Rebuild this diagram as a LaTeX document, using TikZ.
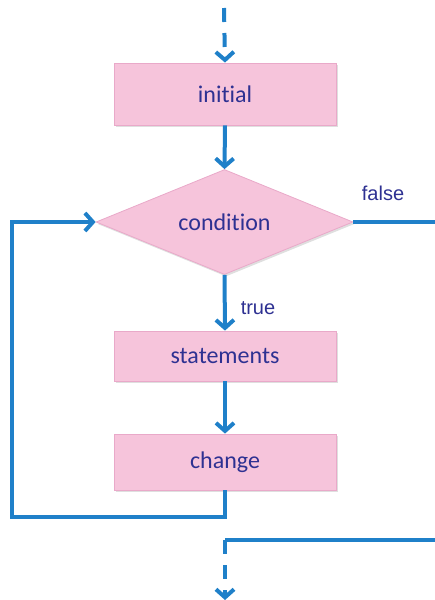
\documentclass[tikz,border=0pt]{standalone}
\usepackage{fontspec}
\setmainfont{Carlito}[Ligatures=NoCommon]
\newfontfamily\labfont{Liberation Sans}
\usetikzlibrary{arrows.meta,shapes.geometric,shadows}
\definecolor{flowblue}{HTML}{1F80C9}
\definecolor{boxpink}{HTML}{F6C4DB}
\definecolor{boxedge}{HTML}{E9A9C9}
\definecolor{txtblue}{HTML}{2E3192}
\tikzset{
  boxshape/.style={rectangle, fill=boxpink, draw=boxedge, line width=0.8pt,
    minimum width=222pt, inner sep=0pt, text=txtblue,
    font=\fontsize{24}{28}\selectfont,
    drop shadow={shadow xshift=1.5pt, shadow yshift=-2pt, opacity=0.25, fill=gray}},
  decshape/.style={diamond, fill=boxpink, draw=boxedge, line width=0.8pt,
    minimum width=257pt, minimum height=105pt, aspect=2.45, inner sep=0pt,
    text=txtblue, font=\fontsize{24}{28}\selectfont,
    drop shadow={shadow xshift=1.5pt, shadow yshift=-2pt, opacity=0.25, fill=gray}},
  lab/.style={text=txtblue, font=\labfont\fontsize{20}{24}\selectfont, inner sep=0pt},
  flow/.style={draw=flowblue, line width=4pt},
  arr/.style={flow, -{Straight Barb[length=8pt,width=18pt,line width=4pt]}},
  dashline/.style={dash pattern=on 14pt off 11pt}
}
\begin{document}
\begin{tikzpicture}[x=1pt,y=-1pt]
\useasboundingbox (0,0) rectangle (435,600);
\node[boxshape, minimum height=62pt] (init) at (225,94) {initial};
\node[decshape] (cond) at (224.5,222) {condition};
\node[boxshape, minimum height=50pt] (stmt) at (225,356) {statements};
\node[boxshape, minimum height=56pt] (chg) at (225,462) {change};
\node[lab] (flabel) at (383,193) {false};
\node[lab] (tlabel) at (258,308) {true};
\coordinate (topstart) at (224,8);
\coordinate (falseend) at (437,222);
\coordinate (loopc) at (12,517);
\coordinate (exitstart) at (437,540);
\coordinate (exitcorner) at (225,540);
\coordinate (exitend) at (225,600);
% connectors
\draw[arr, dashline] (topstart) -- (init.north);
\draw[arr] (init.south) -- (cond.north);
\draw[arr] (cond.south) -- (stmt.north);
\draw[arr] (stmt.south) -- (chg.north);
\draw[arr] (chg.south) |- (loopc) |- (cond.west);
\draw[flow] (cond.east) -- (falseend);
\draw[flow] (exitstart) -- (exitcorner);
\draw[arr, dashline] (exitcorner) -- (exitend);
\end{tikzpicture}
\end{document}
